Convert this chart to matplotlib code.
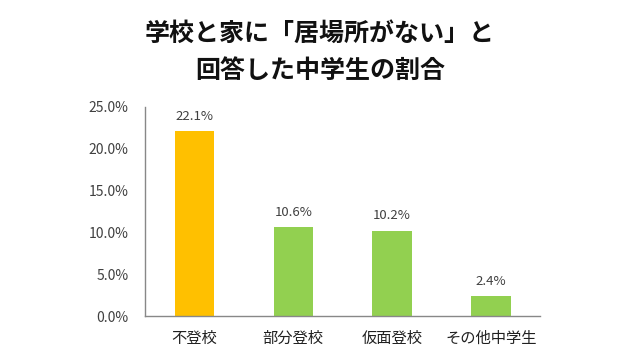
import matplotlib.pyplot as plt

plt.rcParams['font.family'] = ['Noto Sans CJK JP', 'DejaVu Sans']

# Data
categories = ['不登校', '部分登校', '仮面登校', 'その他中学生']
values = [22.1, 10.6, 10.2, 2.4]
colors = ['#FFC000', '#92D050', '#92D050', '#92D050']
yticks = [0, 5, 10, 15, 20, 25]

fig = plt.figure(figsize=(6.4, 3.6), dpi=100)
ax = fig.add_axes([0.227, 0.122, 0.617, 0.581])

x = range(len(categories))
ax.bar(x, values, width=0.4, color=colors)
for xi, v in zip(x, values):
    ax.text(xi, v + 1.0, f'{v:.1f}%', ha='center', va='bottom', fontsize=9.5, color='#404040')

ax.set_xlim(-0.5, len(categories) - 0.5)
ax.set_ylim(0, 25)
ax.set_yticks(yticks)
ax.set_yticklabels([f'{t:.1f}%' for t in yticks], fontsize=10, color='#404040')
ax.set_xticks(list(x))
ax.set_xticklabels(categories, fontsize=11, color='#202020')
ax.tick_params(axis='y', length=0, pad=12)
ax.tick_params(axis='x', length=0, pad=10)

for s in ['top', 'right']:
    ax.spines[s].set_visible(False)
for s in ['left', 'bottom']:
    ax.spines[s].set_color('#888888')
    ax.spines[s].set_linewidth(1.0)

fig.text(0.5, 0.855, '学校と家に「居場所がない」と\n回答した中学生の割合', ha='center', va='center',
         fontsize=18, fontweight='bold', color='#111111', linespacing=1.7)

plt.savefig('out.png', dpi=100)
